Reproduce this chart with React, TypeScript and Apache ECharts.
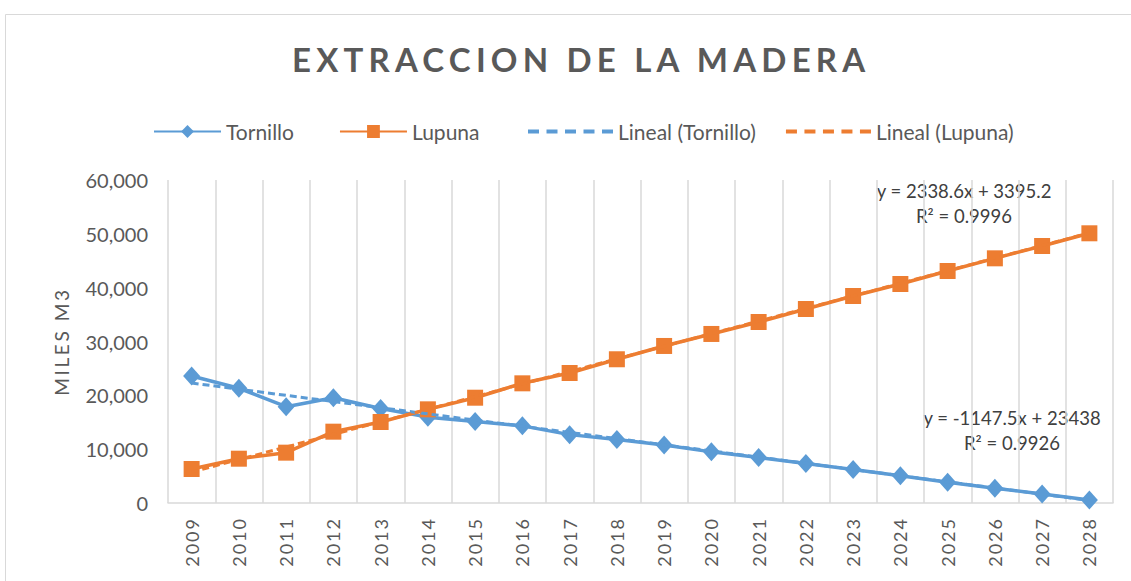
import React, { useEffect, useRef } from "react";
import * as echarts from "echarts";

const years = ["2009","2010","2011","2012","2013","2014","2015","2016","2017","2018","2019","2020","2021","2022","2023","2024","2025","2026","2027","2028"];
const tornillo = [23590, 21310, 17890, 19560, 17550, 15950, 15150, 14330, 12700, 11800, 10770, 9500, 8450, 7330, 6220, 5050, 3870, 2760, 1670, 560];
const lupuna = [6320, 8230, 9350, 13250, 15050, 17400, 19560, 22230, 24150, 26700, 29170, 31400, 33620, 36040, 38450, 40680, 43100, 45450, 47740, 50100];
const tornilloTrend = { slope: -1147.5, intercept: 23438, r2: "0.9926" };
const lupunaTrend = { slope: 2338.6, intercept: 3395.2, r2: "0.9996" };
const yTicks = { min: 0, max: 60000, interval: 10000 };

const FONT = "Lato, 'Open Sans', sans-serif";
const BLUE = "#5B9BD5";
const ORANGE = "#ED7D31";
const GRAY = "#595959";

function trendLine(t: { slope: number; intercept: number }) {
  const n = years.length;
  return [
    [0, t.intercept + t.slope * 1],
    [n - 1, t.intercept + t.slope * n],
  ];
}

// dashed legend icon, 85 x 16 box (corner specks fix the bounding box)
function dashIcon() {
  let d = "M0,0 L0.01,0 L0,0.01 Z M85,16 L84.99,16 L85,15.99 Z";
  for (let i = 0; i < 5; i++) {
    const x = i * 18.5;
    d += ` M${x},6 L${x + 11},6 L${x + 11},10 L${x},10 Z`;
  }
  return "path://" + d;
}

const css = `
#extr-chart text[style*="33px"] { letter-spacing: 5.2px; }
#extr-chart text[style*="19px"] { letter-spacing: 2.6px; }
#extr-chart text[style*="18px"] { letter-spacing: 2px; }
`;

export default function App() {
  const ref = useRef<HTMLDivElement>(null);
  useEffect(() => {
    if (!ref.current) return;
    const chart = echarts.init(ref.current, undefined, { renderer: "svg" });
    const legendText = { fontFamily: FONT, fontSize: 21, color: GRAY };
    chart.setOption({
      animation: false,
      backgroundColor: "#ffffff",
      title: {
        text: "EXTRACCION DE LA MADERA",
        left: 287,
        top: 37,
        textStyle: { fontFamily: FONT, fontSize: 33, fontWeight: "bold", color: GRAY },
      },
      legend: [
        {
          top: 116,
          left: 148,
          itemWidth: 67,
          itemHeight: 16,
          itemGap: 45,
          textStyle: legendText,
          data: ["Tornillo", "Lupuna"],
        },
        {
          top: 116,
          left: 523,
          itemWidth: 85,
          itemHeight: 16,
          itemGap: 30,
          textStyle: legendText,
          data: [
            { name: "Lineal (Tornillo)", icon: dashIcon(), itemStyle: { color: BLUE } },
            { name: "Lineal (Lupuna)", icon: dashIcon(), itemStyle: { color: ORANGE } },
          ],
        },
      ],
      grid: { left: 168, right: 18, top: 180, bottom: 78 },
      xAxis: {
        type: "category",
        data: years,
        boundaryGap: true,
        axisLine: { lineStyle: { color: "#d9d9d9", width: 1.5 } },
        axisTick: { show: false },
        splitLine: { show: true, lineStyle: { color: "#d9d9d9", width: 1.5 } },
        axisLabel: { rotate: 90, margin: 14, fontFamily: FONT, fontSize: 18, color: GRAY },
      },
      yAxis: {
        type: "value",
        min: yTicks.min,
        max: yTicks.max,
        interval: yTicks.interval,
        name: "MILES M3",
        nameLocation: "middle",
        nameRotate: 90,
        nameGap: 97,
        nameTextStyle: { fontFamily: FONT, fontSize: 19, color: GRAY },
        axisLine: { show: false },
        axisTick: { show: false },
        splitLine: { show: false },
        axisLabel: {
          margin: 20,
          fontFamily: FONT,
          fontSize: 20,
          color: GRAY,
          formatter: (v: number) => v.toLocaleString("en-US"),
        },
      },
      series: [
        {
          name: "Tornillo",
          type: "line",
          data: tornillo,
          symbol: "diamond",
          symbolSize: [17, 19],
          itemStyle: { color: BLUE },
          lineStyle: { color: BLUE, width: 3.5 },
          z: 3,
        },
        {
          name: "Lupuna",
          type: "line",
          data: lupuna,
          symbol: "rect",
          symbolSize: 16,
          itemStyle: { color: ORANGE },
          lineStyle: { color: ORANGE, width: 3.5 },
          z: 3,
        },
        {
          name: "Lineal (Tornillo)",
          type: "line",
          data: trendLine(tornilloTrend),
          symbol: "none",
          itemStyle: { color: BLUE },
          lineStyle: { color: BLUE, width: 3, type: [7, 4] },
          z: 4,
        },
        {
          name: "Lineal (Lupuna)",
          type: "line",
          data: trendLine(lupunaTrend),
          symbol: "none",
          itemStyle: { color: ORANGE },
          lineStyle: { color: ORANGE, width: 3, type: [7, 4] },
          z: 4,
        },
      ],
      graphic: [
        {
          type: "rect",
          shape: { x: 5.5, y: 14.5, width: 1200, height: 700 },
          style: { fill: "none", stroke: "#d9d9d9", lineWidth: 1 },
          silent: true,
        },
        {
          type: "text",
          x: 964,
          y: 203,
          style: {
            text: `y = ${lupunaTrend.slope}x + ${lupunaTrend.intercept}\nR² = ${lupunaTrend.r2}`,
            align: "center",
            verticalAlign: "middle",
            lineHeight: 25,
            fontFamily: FONT,
            fontSize: 18.5,
            fill: "#404040",
          },
        },
        {
          type: "text",
          x: 1012,
          y: 430,
          style: {
            text: `y = ${tornilloTrend.slope}x + ${tornilloTrend.intercept}\nR² = ${tornilloTrend.r2}`,
            align: "center",
            verticalAlign: "middle",
            lineHeight: 25,
            fontFamily: FONT,
            fontSize: 18.5,
            fill: "#404040",
          },
        },
      ],
    });
    return () => chart.dispose();
  }, []);
  return (
    <>
      <style>{css}</style>
      <div
        id="extr-chart"
        ref={ref}
        style={{ position: "fixed", left: 0, top: 0, width: 1131, height: 581, background: "#fff" }}
      />
    </>
  );
}
